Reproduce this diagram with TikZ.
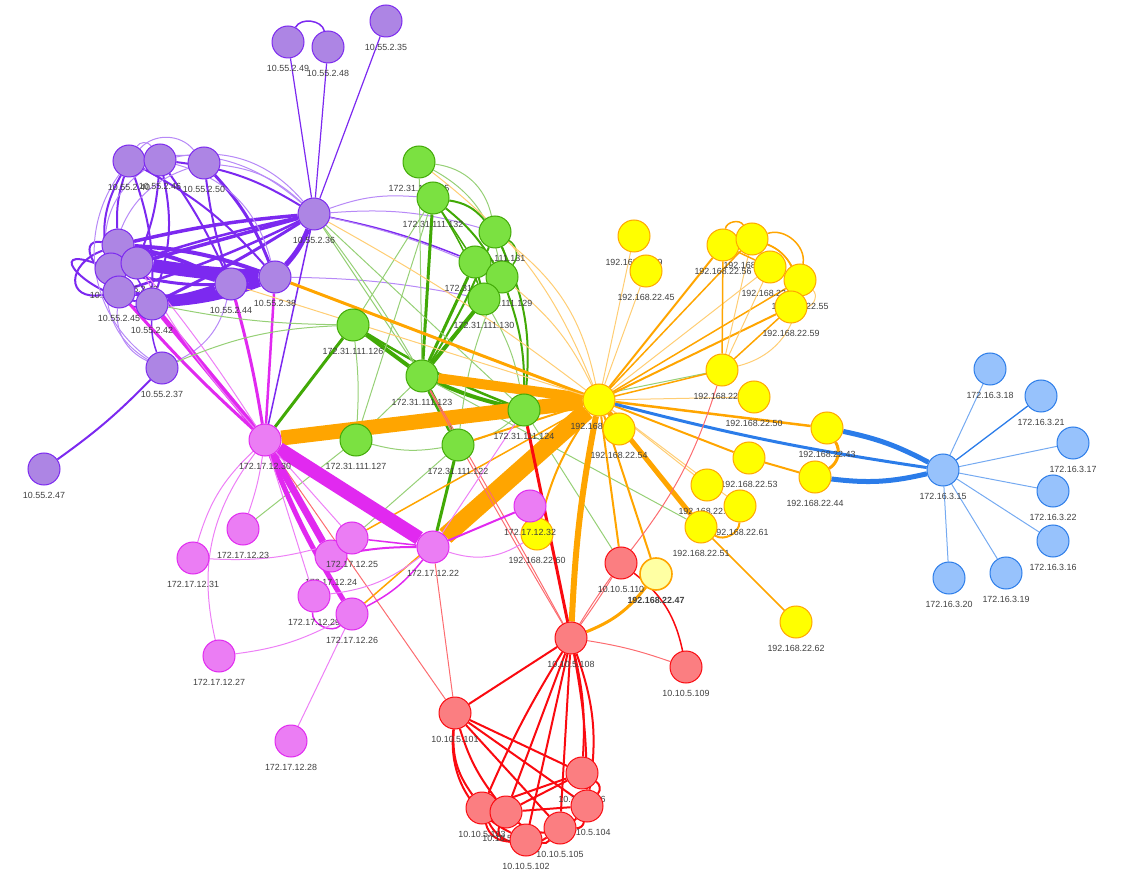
\documentclass[tikz,border=0pt]{standalone}
\usepackage{fontspec}
\setmainfont{Liberation Sans}
\usetikzlibrary{backgrounds}
\definecolor{purpE}{HTML}{7C29F0}
\definecolor{purpF}{HTML}{AD85E4}
\definecolor{greenE}{HTML}{41A906}
\definecolor{greenF}{HTML}{7BE141}
\definecolor{yelF}{HTML}{FFFF00}
\definecolor{yelP}{HTML}{FFFFA3}
\definecolor{oraE}{HTML}{FFA500}
\definecolor{redE}{HTML}{FA0A10}
\definecolor{redF}{HTML}{FB7E81}
\definecolor{pinkE}{HTML}{E129F0}
\definecolor{pinkF}{HTML}{EB7DF4}
\definecolor{blueE}{HTML}{2B7CE9}
\definecolor{blueF}{HTML}{97C2FC}
\definecolor{lblC}{HTML}{404040}
\newcommand\vn[5]{\node[#4] (#1) at (#2,#3) {}; \node[lbl] (#1l) at (#2,#3+26) {#5};}
\begin{document}
\begin{tikzpicture}[x=1pt,y=-1pt,
  nd/.style={circle,minimum size=32pt,inner sep=0pt,line width=1pt},
  pnode/.style={nd,draw=purpE,fill=purpF},
  gnode/.style={nd,draw=greenE,fill=greenF},
  ynode/.style={nd,draw=oraE,fill=yelF},
  yp/.style={nd,draw=oraE,fill=yelP,line width=1.6pt},
  rnode/.style={nd,draw=redE,fill=redF},
  knode/.style={nd,draw=pinkE,fill=pinkF},
  bnode/.style={nd,draw=blueE,fill=blueF},
  lbl/.style={inner sep=0pt,text=lblC,font=\fontsize{8.9}{10}\selectfont},
  pu/.style={draw=purpE,line width=1pt},
  pul/.style={draw=purpE!55,line width=1pt},
  gr/.style={draw=greenE,line width=1pt},
  grl/.style={draw=greenE!55,line width=1pt},
  ora/.style={draw=oraE,line width=1pt},
  oral/.style={draw=oraE!55,line width=1pt},
  rd/.style={draw=redE,line width=1pt},
  rdl/.style={draw=redE!60,line width=1pt},
  mg/.style={draw=pinkE,line width=1pt},
  mgl/.style={draw=pinkE!60,line width=1pt},
  bu/.style={draw=blueE,line width=1pt},
  bul/.style={draw=blueE!65,line width=1pt}]
\useasboundingbox (0,0) rectangle (1122,882);
% yellow
\vn{y46}{599}{400}{ynode}{192.168.22.46}
\vn{y49}{634}{236}{ynode}{192.168.22.49}
\vn{y45}{646}{271}{ynode}{192.168.22.45}
\vn{y56}{723}{245}{ynode}{192.168.22.56}
\vn{y58}{752}{239}{ynode}{192.168.22.58}
\vn{y57}{770}{267}{ynode}{192.168.22.57}
\vn{y55}{800}{280}{ynode}{192.168.22.55}
\vn{y59}{791}{307}{ynode}{192.168.22.59}
\vn{y52}{722}{370}{ynode}{192.168.22.52}
\vn{y50}{754}{397}{ynode}{192.168.22.50}
\vn{y43}{827}{428}{ynode}{192.168.22.43}
\vn{y44}{815}{477}{ynode}{192.168.22.44}
\vn{y53}{749}{458}{ynode}{192.168.22.53}
\vn{y48}{707}{485}{ynode}{192.168.22.48}
\vn{y61}{740}{506}{ynode}{192.168.22.61}
\vn{y51}{701}{527}{ynode}{192.168.22.51}
\vn{y47}{656}{574}{yp}{\textbf{192.168.22.47}}
\vn{y62}{796}{622}{ynode}{192.168.22.62}
\vn{y60}{537}{534}{ynode}{192.168.22.60}
\vn{y54}{619}{429}{ynode}{192.168.22.54}
% green
\vn{g125}{419}{162}{gnode}{172.31.111.125}
\vn{g132}{433}{198}{gnode}{172.31.111.132}
\vn{g131}{495}{232}{gnode}{172.31.111.131}
\vn{g128}{475}{262}{gnode}{172.31.111.128}
\vn{g129}{502}{277}{gnode}{172.31.111.129}
\vn{g130}{484}{299}{gnode}{172.31.111.130}
\vn{g126}{353}{325}{gnode}{172.31.111.126}
\vn{g123}{422}{376}{gnode}{172.31.111.123}
\vn{g124}{524}{410}{gnode}{172.31.111.124}
\vn{g127}{356}{440}{gnode}{172.31.111.127}
\vn{g122}{458}{445}{gnode}{172.31.111.122}
% purple
\vn{p49}{288}{42}{pnode}{10.55.2.49}
\vn{p48}{328}{47}{pnode}{10.55.2.48}
\vn{p35}{386}{21}{pnode}{10.55.2.35}
\vn{p40}{129}{161}{pnode}{10.55.2.40}
\vn{p46}{160}{160}{pnode}{10.55.2.46}
\vn{p50}{204}{163}{pnode}{10.55.2.50}
\vn{p36}{314}{214}{pnode}{10.55.2.36}
\vn{pa}{118}{245}{pnode}{10.55.2.41}
\vn{pe}{111}{269}{pnode}{10.55.2.39}
\vn{pb}{137}{263}{pnode}{10.55.2.43}
\vn{pc}{119}{292}{pnode}{10.55.2.45}
\vn{pd}{152}{304}{pnode}{10.55.2.42}
\vn{p44}{231}{284}{pnode}{10.55.2.44}
\vn{p38}{275}{277}{pnode}{10.55.2.38}
\vn{p37}{162}{368}{pnode}{10.55.2.37}
\vn{p47}{44}{469}{pnode}{10.55.2.47}
% blue
\vn{b15}{943}{470}{bnode}{172.16.3.15}
\vn{b18}{990}{369}{bnode}{172.16.3.18}
\vn{b21}{1041}{396}{bnode}{172.16.3.21}
\vn{b17}{1073}{443}{bnode}{172.16.3.17}
\vn{b22}{1053}{491}{bnode}{172.16.3.22}
\vn{b16}{1053}{541}{bnode}{172.16.3.16}
\vn{b19}{1006}{573}{bnode}{172.16.3.19}
\vn{b20}{949}{578}{bnode}{172.16.3.20}
% red
\vn{r110}{621}{563}{rnode}{10.10.5.110}
\vn{r108}{571}{638}{rnode}{10.10.5.108}
\vn{r109}{686}{667}{rnode}{10.10.5.109}
\vn{r101}{455}{713}{rnode}{10.10.5.101}
\vn{r106}{582}{773}{rnode}{10.10.5.106}
\vn{r104}{587}{806}{rnode}{10.10.5.104}
\vn{r103}{482}{808}{rnode}{10.10.5.103}
\vn{r107}{506}{812}{rnode}{10.10.5.107}
\vn{r105}{560}{828}{rnode}{10.10.5.105}
\vn{r102}{526}{840}{rnode}{10.10.5.102}
% pink
\vn{k30}{265}{440}{knode}{172.17.12.30}
\vn{k23}{243}{529}{knode}{172.17.12.23}
\vn{k31}{193}{558}{knode}{172.17.12.31}
\vn{k24}{331}{556}{knode}{172.17.12.24}
\vn{k25}{352}{538}{knode}{172.17.12.25}
\vn{k29}{314}{596}{knode}{172.17.12.29}
\vn{k26}{352}{614}{knode}{172.17.12.26}
\vn{k27}{219}{656}{knode}{172.17.12.27}
\vn{k28}{291}{741}{knode}{172.17.12.28}
\vn{k22}{433}{547}{knode}{172.17.12.22}
\vn{k32}{530}{506}{knode}{172.17.12.32}

\begin{scope}[on background layer]
% ---- purple edges
\draw[pu,line width=1.5] (p49) to[bend left=70] (p48);
\draw[pu,line width=1.2] (p49) -- (p36);
\draw[pu,line width=1.2] (p48) -- (p36);
\draw[pu,line width=1.2] (p35) -- (p36);
\draw[pu,line width=5] (p36) to[bend left=10] (p38);
\draw[pu,line width=3.5] (p36) to[bend right=4] (pa);
\draw[pu,line width=3.5] (p36) -- (pb);
\draw[pu,line width=2.5] (p36) to[bend right=3] (pe);
\draw[pu,line width=2.5] (p36) to[bend left=4] (pc);
\draw[pu,line width=3] (p36) to[bend left=3] (pd);
\draw[pul] (p36) to[bend right=25] (p40);
\draw[pu,line width=2] (p36) to[bend right=12] (p46);
\draw[pul] (p36) to[bend right=18] (p50);
\draw[pul] (p36) to[bend right=30] (p46);
\draw[pu,line width=13] (p38) to[bend left=3] (pb);
\draw[pu,line width=8] (p38) to[bend left=8] (pd);
\draw[pu,line width=10] (p44) to[bend left=5] (pd);
\draw[pu,line width=6] (p44) to[bend right=5] (pb);
\draw[pu,line width=4] (p44) to[bend right=8] (pa);
\draw[pu,line width=4] (p38) to[bend right=8] (pa);
\draw[pu,line width=4] (p38) to[bend left=12] (pc);
\draw[pu,line width=3] (p38) to[bend left=12] (pe);
\draw[pu,line width=2] (p40) to[bend right=10] (pa);
\draw[pu,line width=2] (p40) to[bend right=25] (pc);
\draw[pu,line width=2] (p40) to[bend left=10] (pd);
\draw[pu,line width=2] (p46) to[bend left=8] (pb);
\draw[pu,line width=2] (p46) to[bend left=15] (pd);
\draw[pu,line width=2] (p46) to[bend left=5] (p44);
\draw[pu,line width=3] (p50) to[bend left=10] (p38);
\draw[pu,line width=2] (p50) to[bend right=5] (p44);
\draw[pu,line width=2] (p40) to[bend left=10] (p38);
\draw[pul] (p46) to[bend left=30] (p38);
\draw[pul] (p40) to[bend left=50] (p50);
\draw[pul] (p40) to[bend left=60] (p46);
\draw[pul] (p46) to[bend right=40] (pc);
\draw[pul] (p50) to[bend right=30] (pe);
\draw[pu,line width=2] (pa) to[out=200,in=190,looseness=2.2] (pc);
\draw[pu,line width=2] (pe) to[out=160,in=170,looseness=2.5] (pd);
\draw[pu,line width=2] (pa) to[out=170,in=210,looseness=2] (pb);
\draw[pu,line width=1.5] (pa) -- (pd);
\draw[pu,line width=2] (pc) to[bend right=30] (pd);
\draw[pu,line width=1.5] (pe) to[bend left=30] (pb);
\draw[pu,line width=2] (p37) to[bend left=5] (p47);
\draw[pul] (p37) to[bend left=40] (pa);
\draw[pul] (p37) to[bend left=35] (pc);
\draw[pul] (p37) to[bend left=45] (p40);
\draw[pu,line width=1.5] (p37) to[bend left=10] (pd);
\draw[pul] (p37) to[bend right=25] (p44);
\draw[pul] (p36) to[bend left=12] (g132);
\draw[pul] (p36) to[bend left=10] (g131);
\draw[pu,line width=1.5] (p36) to[bend left=5] (g128);
\draw[pul] (p38) to[bend left=5] (g130);
\draw[pul] (p36) to[bend left=6] (g129);
\draw[pu,line width=1.5] (p36) -- (k30);
% ---- pink from purple
\draw[mg,line width=5] (pd) -- (k30);
\draw[mg,line width=3] (pc) to[bend right=3] (k30);
\draw[mgl] (pb) to[bend left=3] (k30);
\draw[mgl] (pb) to[bend right=6] (k30);
\draw[mg,line width=3] (p44) to[bend left=3] (k30);
\draw[mg,line width=2.5] (p38) -- (k30);
% ---- green
\draw[gr,line width=3] (g126) -- (k30);
\draw[gr,line width=4] (g126) -- (g123);
\draw[grl] (g126) to[bend left=5] (g127);
\draw[grl] (g126) -- (g132);
\draw[gr,line width=2.5] (g126) to[bend right=5] (g124);
\draw[gr,line width=4] (g123) to[bend right=5] (g124);
\draw[gr,line width=5] (g123) -- (g122);
\draw[gr,line width=4] (g123) -- (g130);
\draw[gr,line width=3] (g123) -- (g128);
\draw[gr,line width=3] (g123) -- (g129);
\draw[gr,line width=2] (g123) to[bend right=5] (g131);
\draw[gr,line width=3] (g132) -- (g123);
\draw[gr,line width=2] (g132) to[bend left=20] (g131);
\draw[gr,line width=2] (g132) to[bend left=10] (g129);
\draw[gr,line width=1.5] (g132) to[bend left=5] (g130);
\draw[gr,line width=1.5] (g132) -- (g128);
\draw[grl] (g125) -- (g123);
\draw[grl] (g125) to[bend left=35] (g131);
\draw[grl] (g125) to[bend left=25] (g129);
\draw[gr,line width=1.5] (g131) to[bend left=50] (g129);
\draw[gr,line width=2] (g128) -- (g129);
\draw[gr,line width=1.5] (g131) to[bend left=35] (g130);
\draw[gr,line width=2] (g128) -- (g130);
\draw[gr,line width=2] (g131) to[bend left=15] (g124);
\draw[grl] (g130) to[bend left=10] (g124);
\draw[gr,line width=2] (g129) to[bend left=10] (g124);
\draw[gr,line width=3] (g122) -- (k22);
\draw[grl] (g127) to[bend right=12] (g122);
\draw[grl] (g122) to[bend right=12] (g124);
\draw[grl] (g124) -- (r110);
\draw[grl] (g123) -- (y51);
\draw[grl] (g126) to[bend left=5] (pd);
\draw[grl] (g126) to[bend right=10] (p37);
\draw[grl] (p36) -- (g123);
\draw[grl] (p36) -- (g124);
\draw[grl] (p36) to[bend left=5] (g122);
\draw[grl] (k23) -- (g127);
\draw[grl] (k25) -- (g122);
\draw[grl] (g127) -- (g123);
\draw[grl] (g127) -- (g132);
\draw[grl] (g124) -- (y52);
\draw[grl] (g122) to[bend left=8] (g129);
% ---- orange
\draw[ora,line width=15] (k30) -- (y46);
\draw[ora,line width=18] (k22) -- (y46);
\draw[ora,line width=10] (g123) -- (y46);
\draw[ora,line width=8] (g124) -- (y46);
\draw[ora,line width=6] (y46) to[bend right=4] (r108);
\draw[ora,line width=5] (y46) -- (y51);
\draw[oral] (y46) -- (y49);
\draw[oral] (y46) -- (y45);
\draw[ora,line width=2] (y46) -- (y56);
\draw[ora,line width=1.5] (y46) -- (y58);
\draw[oral] (y46) -- (y57);
\draw[ora,line width=2] (y46) -- (y59);
\draw[ora,line width=1.5] (y46) -- (y55);
\draw[ora,line width=1.5] (y46) -- (y52);
\draw[oral] (y46) -- (y50);
\draw[ora,line width=2.5] (y46) -- (y43);
\draw[ora,line width=2] (y46) -- (y53);
\draw[oral] (y46) -- (y48);
\draw[oral] (y46) -- (y61);
\draw[ora,line width=2] (y46) -- (y47);
\draw[ora,line width=2] (y46) -- (r110);
\draw[ora,line width=2] (y46) to[bend right=10] (y60);
\draw[ora,line width=2] (y46) -- (y54);
\draw[ora,line width=1.5] (y52) -- (y56);
\draw[oral] (y52) -- (y57);
\draw[oral] (y52) -- (y58);
\draw[ora,line width=1.5] (y52) -- (y59);
\draw[oral] (y52) to[bend right=35] (y55);
\draw[ora,line width=1.5] (y56) to[bend left=70] (y58);
\draw[ora,line width=2] (y58) -- (y57);
\draw[ora,line width=1.5] (y57) -- (y55);
\draw[oral] (y55) to[bend left=70] (y59);
\draw[ora,line width=1.5] (y56) to[bend left=35] (y55);
\draw[ora,line width=1.5] (y58) to[bend left=40] (y59);
\draw[ora,line width=1.5] (y56) -- (y57);
\draw[ora,line width=1.5] (y58) to[bend left=60] (y55);
\draw[ora,line width=3] (y43) to[bend left=45] (y44);
\draw[ora,line width=2] (y53) -- (y44);
\draw[ora,line width=2] (y61) to[bend left=60] (y51);
\draw[ora,line width=1.5] (y51) -- (y62);
\draw[ora,line width=3] (r108) to[bend right=15] (y47);
\draw[ora,line width=1.5] (k25) -- (y46);
\draw[ora,line width=1.5] (k26) -- (y46);
\draw[ora,line width=3] (p38) -- (y46);
\draw[oral] (p36) to[bend left=4] (y46);
\draw[oral] (g131) to[bend left=20] (y46);
\draw[oral] (g129) to[bend left=12] (y46);
\draw[oral] (g125) to[bend left=15] (y46);
\draw[ora,line width=2] (g122) -- (y46);
\draw[oral] (p44) -- (y46);
% ---- blue
\draw[bul] (b15) -- (b18);
\draw[bu,line width=1.3] (b15) -- (b21);
\draw[bul] (b15) -- (b17);
\draw[bul] (b15) -- (b22);
\draw[bul] (b15) -- (b16);
\draw[bul] (b15) -- (b19);
\draw[bul] (b15) -- (b20);
\draw[bu,line width=3] (y46) to[bend right=3] (b15);
\draw[bu,line width=5] (y43) to[bend left=8] (b15);
\draw[bu,line width=5] (y44) to[bend right=10] (b15);
% ---- red
\draw[rd,line width=3] (r108) -- (g124);
\draw[rdl] (r108) to[bend left=1] (g123);
\draw[rdl] (r108) to[bend right=1] (g123);
\draw[rdl] (r108) to[bend left=2] (r110);
\draw[rdl] (r108) to[bend right=2] (r110);
\draw[rdl] (r108) to[bend left=5] (r109);
\draw[rd,line width=1.5] (r110) to[bend left=20] (r109);
\draw[rdl] (r110) to[bend right=10] (y52);
\draw[rd,line width=2] (r108) -- (r101);
\draw[rd,line width=2] (r108) to[bend right=4] (r103);
\draw[rd,line width=2] (r108) -- (r107);
\draw[rd,line width=2] (r108) -- (r102);
\draw[rd,line width=2] (r108) -- (r105);
\draw[rd,line width=2] (r108) to[bend left=5] (r104);
\draw[rd,line width=2] (r108) to[bend left=8] (r106);
\draw[rd,line width=2] (r108) to[bend left=14] (r104);
\draw[rd,line width=2] (r101) -- (r106);
\draw[rd,line width=2] (r101) -- (r104);
\draw[rd,line width=2] (r101) -- (r105);
\draw[rd,line width=2] (r101) to[bend right=10] (r107);
\draw[rd,line width=2] (r101) to[bend right=20] (r103);
\draw[rd,line width=2] (r101) to[bend right=35] (r102);
\draw[rd,line width=2] (r103) to[bend right=40] (r102);
\draw[rd,line width=2] (r103) -- (r106);
\draw[rd,line width=2] (r107) -- (r106);
\draw[rd,line width=2] (r107) -- (r104);
\draw[rd,line width=2] (r102) to[bend right=30] (r105);
\draw[rd,line width=2] (r105) to[bend right=40] (r104);
\draw[rd,line width=2] (r104) to[bend right=50] (r106);
\draw[rd,line width=2] (r103) to[bend right=50] (r105);
\draw[rd,line width=2] (r107) to[bend right=45] (r104);
\draw[rd,line width=2] (r102) to[bend left=60] (r107);
\draw[rdl] (k30) -- (r101);
\draw[rdl] (k22) -- (r101);
% ---- pink
\draw[mg,line width=14] (k30) -- (k22);
\draw[mg,line width=7] (k30) -- (k24);
\draw[mg,line width=5] (k30) to[bend right=5] (k26);
\draw[mgl] (k30) -- (k25);
\draw[mgl] (k30) to[bend left=5] (k23);
\draw[mgl] (k30) to[bend right=15] (k31);
\draw[mgl] (k30) -- (k29);
\draw[mgl] (k30) to[bend right=25] (k27);
\draw[mg,line width=2] (k24) to[bend left=5] (k22);
\draw[mg,line width=1.5] (k25) -- (k22);
\draw[mgl] (k31) to[bend right=10] (k25);
\draw[mg,line width=1.5] (k29) to[bend right=70] (k26);
\draw[mgl] (k27) to[bend right=10] (k26);
\draw[mgl] (k26) -- (k28);
\draw[mgl] (k29) to[bend right=15] (k22);
\draw[mg,line width=1.5] (k26) to[bend right=12] (k22);
\draw[mg,line width=2] (k22) -- (k32);
\draw[mgl] (k22) to[bend right=25] (y60);
\draw[mgl] (k22) -- (g124);
\end{scope}
\end{tikzpicture}
\end{document}
